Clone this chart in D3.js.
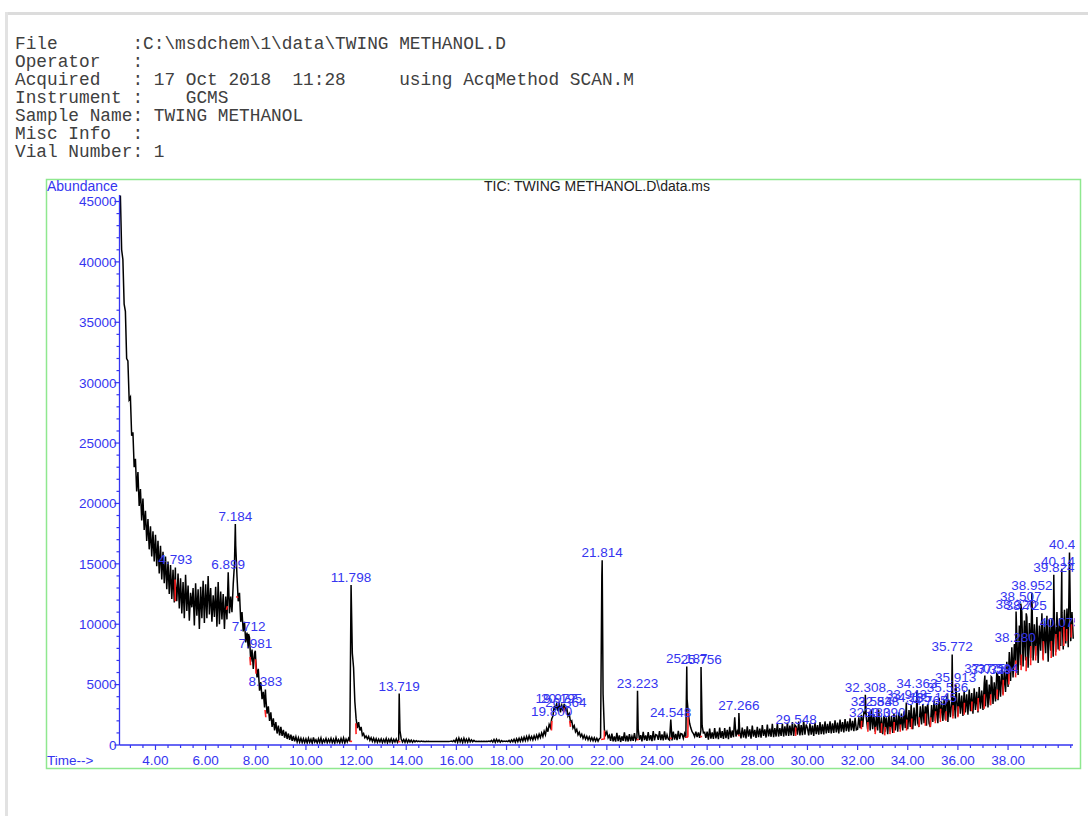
<!DOCTYPE html>
<html>
<head>
<meta charset="utf-8">
<script src="https://cdn.jsdelivr.net/npm/d3@7/dist/d3.min.js"></script>
<style>
  html, body { margin: 0; padding: 0; background: #fff; }
  svg { display: block; }
  .hdr { font-family: "Liberation Mono", "DejaVu Sans Mono", monospace; font-size: 17.8px; fill: #404040; white-space: pre; }
  .ax { font-family: "Liberation Sans", Arial, sans-serif; font-size: 13.5px; fill: #3535f0; }
  .pk { font-family: "Liberation Sans", Arial, sans-serif; font-size: 13.5px; fill: #3535f0; }
</style>
</head>
<body>
<svg id="chart" width="1088" height="816"></svg>
<script>
// ---------------- header text ----------------
const headerLines = [
  "File       :C:\\msdchem\\1\\data\\TWING METHANOL.D",
  "Operator   :",
  "Acquired   : 17 Oct 2018  11:28     using AcqMethod SCAN.M",
  "Instrument :    GCMS",
  "Sample Name: TWING METHANOL",
  "Misc Info  :",
  "Vial Number: 1"
];
const chartTitle = "TIC: TWING METHANOL.D\\data.ms";
const yAxisTitle = "Abundance";
const xAxisTitle = "Time-->";

// ---------------- axis ticks ----------------
const xTickLabels = [4, 6, 8, 10, 12, 14, 16, 18, 20, 22, 24, 26, 28, 30, 32, 34, 36, 38];
const yTickLabels = [0, 5000, 10000, 15000, 20000, 25000, 30000, 35000, 40000, 45000];

// ---------------- TIC trace (abundance every 0.05 min) ----------------
const ticStep = 0.05;
const ticEarlyStart = 2.60;
const ticEarly = [
  45500, 41000, 40200, 36500, 35900, 32000, 31800, 28600,
  28800, 25600, 25900, 23000, 23700, 21000, 22600, 19800, 21200, 18600, 20400, 17800, 19400, 16900, 18700, 16200, 18100, 15600, 17700, 15200,
  17400, 14800, 16900, 14200, 16500, 13700, 16000, 13400, 15600, 12900, 15200, 12500, 14900, 12100, 14500, 11800, 13500, 11900, 14200, 11300,
  13800, 10900, 13500, 10500, 14100, 11100, 13200, 10300, 12600, 11400, 13000, 9900, 13400, 10700, 12900, 9600, 13100, 10500, 13600, 10100,
  13300, 10500, 14000, 10800, 13000, 10200, 12400, 10600, 13100, 9800, 13500, 10000, 12700, 10400, 12500, 9600, 12300, 10400, 12000, 10900,
  12300, 11000, 13300, 15000, 16500, 14000, 11900, 12600, 10200, 11000, 9400, 10200, 8500, 9300, 8000, 8900, 6900, 7900, 6300, 7600,
  7000, 5600, 6300, 4500, 5200, 3800, 4400, 3100, 3900, 2600, 3200, 2000, 2700, 1500, 2200, 1200, 1900, 950, 1600, 800,
  1500, 750, 1250, 600, 1100, 500, 950, 420, 850, 350, 750, 300, 680, 260, 600, 230, 550, 200, 520, 200
];
const ticMidStart = 10.00;
const ticMid = [
  500, 180, 560, 220, 480, 150, 620, 250, 430, 170, 520, 210, 580, 160, 450, 240, 540, 190, 470, 230,
  560, 200, 480, 160, 600, 240, 450, 180, 530, 220, 580, 170, 490, 250, 550, 300, 12800, 7600, 6400, 3600,
  2200, 1400, 1900, 1200, 1500, 800, 950, 600, 750, 500, 700, 380, 600, 300, 560, 250, 520, 220, 480, 250,
  500, 200, 460, 230, 540, 180, 480, 240, 520, 200, 460, 250, 500, 220, 420, 1200, 500, 250, 450, 220,
  480, 210, 430, 250, 400, 220, 380, 260, 350, 280, 330, 280, 320, 290, 310, 280, 300, 290, 300, 280,
  290, 280, 290, 280, 290, 280, 290, 280, 290, 280, 290, 280, 290, 280, 290, 300, 320, 280, 380, 250,
  520, 220, 580, 260, 500, 200, 560, 240, 480, 230, 520, 260, 430, 270, 380, 290, 300, 290, 300, 290,
  300, 290, 300, 290, 310, 290, 320, 280, 380, 240, 450, 220, 470, 260, 420, 230, 360, 280, 320, 290,
  330, 280, 380, 240, 420, 260, 470, 230, 520, 280, 560, 300, 600, 330, 650, 360, 700, 400, 760, 450
];
const ticHumpStart = 19.00;
const ticHump = [
  700, 420, 760, 480, 820, 540, 900, 620, 1000, 700, 1150, 850, 1400, 1100, 1700, 1450, 2200, 2400, 3200, 2900,
  3400, 2800, 3500, 2700, 3300, 2800, 3400, 2900, 3100, 2400, 2600, 1900, 2000, 1400, 1600, 1100, 1300, 850, 1050, 700,
  900, 550, 800, 480, 720, 420, 680, 380, 620, 350, 600, 330, 560, 320, 520, 600, 14000, 4200, 1300, 850
];
const ticLateStart = 22.00;
const ticLate = [
  1100, 600, 800, 350, 950, 300, 700, 280, 1000, 320, 800, 250, 720, 350, 1050, 300, 780, 290, 900, 330,
  720, 350, 980, 400, 600, 1300, 420, 820, 300, 1080, 400, 800, 340, 1060, 380, 820, 320, 1150, 380, 860,
  800, 420, 1150, 400, 880, 380, 1120, 440, 850, 500, 420, 900, 380, 1100, 450, 920, 400, 1180, 500, 950,
  900, 550, 950, 600, 3800, 2600, 1800, 1400, 1100, 950, 700, 1100, 650, 1050, 600, 1200, 1600, 1000, 1050, 600,
  1100, 450, 1350, 520, 1050, 500, 1400, 550, 1100, 480, 1450, 580, 1150, 500, 1400, 560, 1250, 480, 1500, 600,
  1200, 650, 2300, 700, 1150, 850, 1100, 550, 1450, 620, 1300, 550, 1550, 700, 1300, 520, 1600, 700, 1250, 580,
  1500, 650, 1350, 600, 1650, 750, 1300, 620, 1700, 720, 1350, 680, 1750, 650, 1400, 700, 1800, 700, 1400, 750,
  1750, 700, 1550, 780, 1850, 750, 1600, 800, 1900, 750, 1650, 1400, 850, 1950, 800, 1650, 820, 2000, 850, 1700,
  1400, 800, 1800, 850, 1600, 760, 1850, 900, 1650, 850, 1900, 900, 1700, 880, 1950, 950, 1750, 1000, 1950, 950,
  1800, 1000, 2050, 1050, 1850, 950, 2100, 1100, 1900, 1050, 2150, 1150, 1950, 1100, 2200, 1200, 2000, 1150, 2250, 1250
];
const ticEndStart = 32.00;
const ticEnd = [
  1300, 2300, 1400, 2500, 1500, 2700, 2600, 2200, 1300, 2700, 1200, 2800, 1300, 2500, 1100, 2400, 1200, 2600, 1000, 2300,
  900, 2400, 1100, 2300, 900, 2500, 1100, 2400, 1000, 2600, 1200, 2500, 1100, 2700, 1300, 2600, 1200, 2800, 1400, 2700,
  1300, 2900, 1500, 2800, 1300, 3100, 1600, 3000, 1800, 1500, 3200, 1700, 3400, 1800, 3200, 1600, 3400, 1800, 1500, 3300,
  1900, 3700, 2000, 3500, 1800, 3900, 2200, 3600, 2000, 3800, 2100, 4000, 1900, 3700, 2300, 3600, 2400, 3900, 2200, 4000,
  2400, 4300, 2600, 4100, 2400, 4500, 2700, 4200, 2500, 4600, 2800, 4300, 2600, 4700, 2900, 4400, 2700, 4800, 3000, 4500,
  2900, 5100, 3200, 5400, 3100, 5000, 3300, 5600, 3400, 5200, 3600, 6000, 3700, 5700, 4000, 6500, 4200, 6100, 4400, 6900,
  4800, 7700, 5300, 8100, 5600, 8300, 6000, 9000, 5800, 9900, 6600, 11000, 6500, 10300, 7000, 10600, 6400, 10100, 7200, 11500,
  7000, 10000, 7400, 10600, 6800, 9900, 7800, 10900, 7100, 10300, 7600, 10700, 6900, 10400, 7800, 10500, 7300, 10100, 7700, 11000,
  7900, 10500, 8200, 11000, 7900, 11200, 8400, 11300, 8100, 10800, 8600, 11000, 8800
];

// ---------------- integrated peaks (retention time, apex abundance) ----------------
const peakTimes = [4.793, 6.899, 7.184, 7.712, 7.981, 8.383, 11.798, 13.719,
  19.800, 19.977, 20.195, 20.364, 21.814, 23.223, 24.548, 25.187, 25.756, 27.266, 29.548,
  32.308, 32.554, 32.838, 32.483, 33.090, 33.943, 34.135, 34.363, 34.765, 35.145, 35.586, 35.772, 35.913,
  37.075, 37.329, 37.594, 38.280, 38.320, 38.507, 38.725, 38.952, 39.824, 40.075, 40.142, 40.452];
const peakApex = [14700, 14300, 18300, 9190, 7800, 4600, 13250, 4260,
  2150, 3270, 3270, 2860, 15300, 4500, 2100, 6500, 6450, 2650, 1530,
  4150, 2940, 2940, 2110, 2110, 3520, 3300, 4510, 3100, 3300, 4100, 7500, 5000,
  5750, 5650, 5750, 8320, 11050, 11700, 10900, 12600, 14100, 9560, 14600, 15940];

// ---------------- integration baseline marks [t1, v1, t2, v2] ----------------
const baselineMarks = [
  [4.78, 13700, 4.79, 11900], [6.83, 11200, 6.87, 11500], [7.22, 12300, 7.30, 12200],
  [7.77, 7300, 7.79, 6600], [7.99, 7100, 8.01, 5900], [8.37, 2900, 8.40, 2300],
  [11.74, 300, 11.84, 300], [11.99, 1800, 12.00, 900], [13.68, 280, 13.77, 280],
  [19.79, 1200, 19.81, 2000], [20.28, 2700, 20.30, 3100], [20.52, 2000, 20.55, 1500],
  [21.77, 450, 21.88, 500], [21.90, 1200, 21.90, 450], [23.19, 450, 23.27, 450],
  [24.51, 550, 24.59, 550], [25.13, 650, 25.23, 650], [25.23, 650, 25.24, 2800],
  [25.72, 700, 25.80, 700], [27.23, 780, 27.30, 800], [29.53, 750, 29.53, 1450],
  [32.15, 1300, 32.16, 2000], [32.41, 1100, 32.41, 1900], [32.70, 900, 32.72, 1500],
  [32.95, 1000, 32.96, 1800], [33.08, 800, 33.10, 1500], [33.29, 900, 33.30, 1500],
  [33.45, 1000, 33.46, 1900], [33.70, 1100, 33.71, 1700], [33.95, 1200, 33.96, 2100],
  [34.15, 1300, 34.16, 2200], [34.45, 1500, 34.46, 2300], [34.70, 1600, 34.71, 2600],
  [34.90, 1500, 34.91, 2300], [35.10, 1800, 35.11, 2800], [35.30, 1900, 35.31, 3000],
  [35.52, 2000, 35.53, 2800], [35.80, 2200, 35.81, 3300], [36.00, 2300, 36.01, 3200],
  [36.25, 2500, 36.26, 3500], [36.55, 2800, 36.56, 3600], [36.80, 2800, 36.81, 3900],
  [37.05, 3000, 37.06, 4200], [37.30, 3300, 37.31, 4200], [37.56, 3800, 37.57, 4600],
  [37.80, 4100, 37.81, 5400], [38.03, 5000, 38.04, 6200], [38.30, 5600, 38.31, 7000],
  [38.52, 6200, 38.53, 7500], [38.72, 6100, 38.73, 7300], [38.90, 6600, 38.91, 8200],
  [39.10, 7000, 39.11, 8200], [39.40, 7000, 39.41, 8600], [39.72, 7200, 39.73, 8600],
  [39.90, 7400, 39.91, 9200], [40.05, 7800, 40.06, 9400], [40.22, 8200, 40.23, 9800],
  [40.33, 8600, 40.34, 9600], [40.52, 8900, 40.53, 10000]
];

// ================= drawing =================
const svg = d3.select("#chart");
const blue = "#3535f0";

// page border
svg.append("rect").attr("x", 5).attr("y", 12).attr("width", 1083).attr("height", 3).attr("fill", "#dcdcdc");
svg.append("rect").attr("x", 5).attr("y", 12).attr("width", 3).attr("height", 804).attr("fill", "#e2e2e2");

// header
svg.selectAll("text.hdr").data(headerLines).enter().append("text")
  .attr("class", "hdr").attr("x", 15).attr("y", (d, i) => 49 + i * 18).text(d => d);

// plot frame
svg.append("rect").attr("x", 46.5).attr("y", 179.5).attr("width", 1034).attr("height", 589)
  .attr("fill", "none").attr("stroke", "#8fe88f").attr("stroke-width", 1.5);

const x = d3.scaleLinear().domain([2.565, 40.59]).range([119.5, 1073]);
const y = d3.scaleLinear().domain([0, 45000]).range([745, 201.5]);

// titles
svg.append("text").attr("class", "ax").attr("x", 47).attr("y", 191).style("font-size", "14px").text(yAxisTitle);
svg.append("text").attr("x", 597).attr("y", 191).attr("text-anchor", "middle")
  .style("font-family", "'Liberation Sans', Arial, sans-serif").style("font-size", "14px").attr("fill", "#222").text(chartTitle);
svg.append("text").attr("class", "ax").attr("x", 47).attr("y", 765).text(xAxisTitle);

// build trace
const segments = [[ticEarlyStart, ticEarly], [ticMidStart, ticMid], [ticHumpStart, ticHump], [ticLateStart, ticLate], [ticEndStart, ticEnd]];
const pts = [];
segments.forEach(([s, arr]) => arr.forEach((v, i) => pts.push([+(s + i * ticStep).toFixed(3), v])));
peakTimes.forEach((t, i) => {
  const near = pts.find(p => Math.abs(p[0] - t) < 0.004);
  if (near) near[1] = peakApex[i]; else pts.push([t, peakApex[i]]);
});
pts.sort((a, b) => a[0] - b[0]);

const line = d3.line().x(d => x(d[0])).y(d => y(d[1]));
svg.append("path").attr("d", line(pts)).attr("fill", "none").attr("stroke", "#000")
  .attr("stroke-width", 1.5).attr("stroke-linejoin", "miter");

// red baseline marks
svg.selectAll("line.bm").data(baselineMarks).enter().append("line")
  .attr("x1", d => x(d[0])).attr("y1", d => y(d[1])).attr("x2", d => x(d[2])).attr("y2", d => y(d[3]))
  .attr("stroke", "#ff2020").attr("stroke-width", 1.6);

// axes (ChemStation style, blue)
const axisG = svg.append("g");
axisG.append("line").attr("x1", x.range()[0]).attr("x2", x.range()[1]).attr("y1", y(0)).attr("y2", y(0))
  .attr("stroke", blue).attr("stroke-width", 1.3);
axisG.append("line").attr("x1", x.range()[0]).attr("x2", x.range()[0]).attr("y1", y(0)).attr("y2", 195)
  .attr("stroke", blue).attr("stroke-width", 1.3);

const xMinor = d3.range(3, 40.51, 0.5);
axisG.selectAll("line.xm").data(xMinor).enter().append("line")
  .attr("x1", d => x(d)).attr("x2", d => x(d)).attr("y1", y(0)).attr("y2", d => y(0) + (xTickLabels.includes(d) ? 5 : 3))
  .attr("stroke", blue).attr("stroke-width", 1.2);
axisG.selectAll("text.xl").data(xTickLabels).enter().append("text")
  .attr("class", "ax").attr("x", d => x(d)).attr("y", 765).attr("text-anchor", "middle").text(d3.format(".2f"));

const yMinor = d3.range(0, 45001, 1000);
axisG.selectAll("line.ym").data(yMinor).enter().append("line")
  .attr("x1", d => x.range()[0] - (d % 5000 === 0 ? 5 : 3)).attr("x2", x.range()[0]).attr("y1", d => y(d)).attr("y2", d => y(d))
  .attr("stroke", blue).attr("stroke-width", 1.2);
axisG.selectAll("text.yl").data(yTickLabels).enter().append("text")
  .attr("class", "ax").attr("x", x.range()[0] - 3).attr("y", d => y(d)).attr("dy", "0.36em")
  .attr("text-anchor", "end").text(d => d);

// peak labels (clipped at right end of time axis)
svg.append("clipPath").attr("id", "lblclip").append("rect").attr("x", 46).attr("y", 180).attr("width", 1029).attr("height", 588);
svg.append("g").attr("clip-path", "url(#lblclip)")
  .selectAll("text").data(peakTimes).enter().append("text")
  .attr("class", "pk").attr("x", d => x(d)).attr("y", (d, i) => y(peakApex[i]) - 3)
  .attr("text-anchor", "middle").text(d => d.toFixed(3));
</script>
</body>
</html>
